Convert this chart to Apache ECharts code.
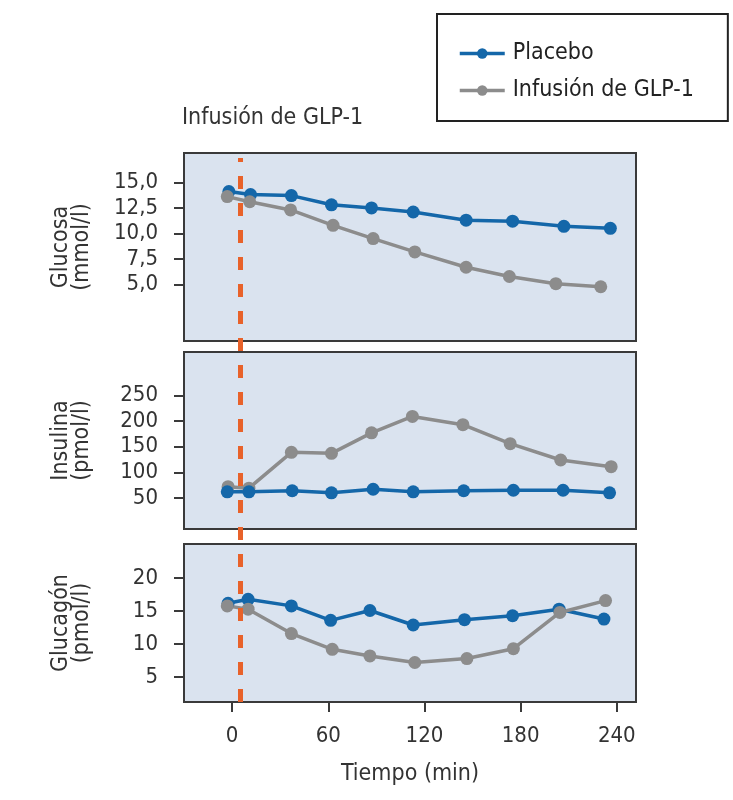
<!DOCTYPE html>
<html>
<head>
<meta charset="utf-8">
<script src="https://cdn.jsdelivr.net/npm/echarts@6/dist/echarts.min.js"></script>
<style>
  html, body { margin: 0; padding: 0; background: #ffffff; }
  #chart { width: 733px; height: 800px; }
</style>
</head>
<body>
<div id="chart"></div>
<script>
// ---- Data ----
const seriesNames = ['Placebo', 'Infusión de GLP-1'];
const chartTitle = 'Infusión de GLP-1';
const xAxisTitle = 'Tiempo (min)';
const panelTitles = ['Glucosa\n(mmol/l)', 'Insulina\n(pmol/l)', 'Glucagón\n(pmol/l)'];

const timeTicks = [0, 60, 120, 180, 240];
const glucoseTicks = [5, 7.5, 10, 12.5, 15];
const insulinTicks = [50, 100, 150, 200, 250];
const glucagonTicks = [5, 10, 15, 20];
const infusionStart = 5;

const glucoseTimesPlacebo = [-2, 11.5, 37, 62, 87, 113, 146, 175, 207, 236];
const glucoseTimesGLP = [-3, 11, 36.5, 63, 88, 114, 146, 173, 202, 230];
const insulinTimesPlacebo = [-3, 10.5, 37.5, 62, 88, 113, 144.5, 175.5, 206.5, 235.5];
const insulinTimesGLP = [-2.5, 10.5, 37, 62, 87, 112.5, 144, 173.5, 205, 236.5];
const glucagonTimesPlacebo = [-2.5, 10, 37, 61.5, 86, 113, 145, 175, 204, 232];
const glucagonTimesGLP = [-3, 10, 37, 62.5, 86, 114, 146.5, 175.5, 204.5, 233];

const glucosePlacebo = [14.1, 13.8, 13.7, 12.8, 12.5, 12.1, 11.3, 11.2, 10.7, 10.5];
const glucoseGLP = [13.6, 13.1, 12.3, 10.8, 9.5, 8.2, 6.7, 5.8, 5.1, 4.8];
const insulinPlacebo = [62, 62, 64, 60, 67, 62, 64, 65, 65, 60];
const insulinGLP = [72, 69, 139, 137, 177, 209, 193, 156, 124, 111];
const glucagonPlacebo = [16.2, 16.8, 15.8, 13.6, 15.1, 12.9, 13.7, 14.3, 15.3, 13.8];
const glucagonGLP = [15.8, 15.3, 11.6, 9.2, 8.2, 7.2, 7.8, 9.3, 14.8, 16.6];

// ---- Styling ----
const FONT = "'DejaVu Sans Condensed', 'Liberation Sans Narrow', sans-serif";
const TEXT = '#333333';
const BLUE = '#1467A9';
const GRAY = '#8C8C8C';
const ORANGE = '#E8622A';
const PANEL_BG = '#DAE3EF';
const BORDER = '#3a3a3a';
const FS_TICK = 22;
const FS_TEXT = 23;

const zip = (xs, ys) => xs.map((x, i) => [x, ys[i]]);
const X_MIN = -30, X_MAX = 252;

const grids = [
  { left: 184, right: 97, top: 153, height: 188 },
  { left: 184, right: 97, top: 352, height: 177 },
  { left: 184, right: 97, top: 544, height: 158 }
].map(g => Object.assign(g, { show: true, backgroundColor: PANEL_BG, borderColor: BORDER, borderWidth: 2 }));
grids.push({ left: 184, right: 97, top: 158, bottom: 98, show: false });

function xAxisFor(i, visible) {
  return {
    type: 'value', gridIndex: i, min: X_MIN, max: X_MAX,
    show: true,
    splitLine: { show: false },
    axisLine: { show: false, onZero: false },
    axisTick: { show: visible, length: 10, lineStyle: { color: BORDER, width: 2 }, customValues: timeTicks },
    axisLabel: { show: visible, customValues: timeTicks, fontSize: FS_TICK, color: TEXT, fontFamily: FONT, margin: 23 },
    name: visible ? xAxisTitle : '',
    nameLocation: 'middle', nameGap: 61,
    nameTextStyle: { fontSize: FS_TEXT, color: TEXT, fontFamily: FONT }
  };
}
function yAxisFor(i, min, max, ticks, fmt, title) {
  return {
    type: 'value', gridIndex: i, min: min, max: max,
    splitLine: { show: false },
    axisLine: { show: false, onZero: false },
    axisTick: { show: true, length: 10, lineStyle: { color: BORDER, width: 2 }, customValues: ticks },
    axisLabel: { customValues: ticks, formatter: fmt, fontSize: FS_TICK, color: TEXT, fontFamily: FONT, margin: 26 },
    name: title, nameLocation: 'middle', nameGap: 91, nameRotate: 90,
    nameTextStyle: { fontSize: FS_TEXT, color: TEXT, fontFamily: FONT, lineHeight: 21, align: 'center' }
  };
}
const commaFmt = v => v.toFixed(1).replace('.', ',');
const intFmt = v => String(v);

function lineSeries(name, color, gi, data) {
  return {
    name: name, type: 'line', xAxisIndex: gi, yAxisIndex: gi,
    data: data, symbol: 'circle', symbolSize: 13,
    lineStyle: { color: color, width: 3.5 },
    itemStyle: { color: color },
    emphasis: { disabled: true }, animation: false
  };
}

const option = {
  backgroundColor: '#ffffff',
  animation: false,
  title: {
    text: chartTitle, left: 177, top: 102,
    textStyle: { fontSize: FS_TEXT, fontWeight: 'normal', color: TEXT, fontFamily: FONT }
  },
  legend: {
    data: seriesNames, orient: 'vertical', left: 437, top: 14,
    borderColor: '#222', borderWidth: 2, padding: [28, 34, 19, 21],
    itemGap: 14, itemWidth: 45, itemHeight: 13,
    lineStyle: { width: 3.5 },
    textStyle: { fontSize: FS_TEXT, color: '#222', fontFamily: FONT, padding: [0, 0, 0, 3] }
  },
  grid: grids,
  xAxis: [xAxisFor(0, false), xAxisFor(1, false), xAxisFor(2, true),
    { type: 'value', gridIndex: 3, min: X_MIN, max: X_MAX, show: false }],
  yAxis: [
    yAxisFor(0, -0.5, 17.86, glucoseTicks, commaFmt, panelTitles[0]),
    yAxisFor(1, -10.6, 334.8, insulinTicks, intFmt, panelTitles[1]),
    yAxisFor(2, 1.2, 25.2, glucagonTicks, intFmt, panelTitles[2]),
    { type: 'value', gridIndex: 3, min: 0, max: 1, show: false }
  ],
  series: [
    lineSeries(seriesNames[0], BLUE, 0, zip(glucoseTimesPlacebo, glucosePlacebo)),
    lineSeries(seriesNames[1], GRAY, 0, zip(glucoseTimesGLP, glucoseGLP)),
    lineSeries(seriesNames[1], GRAY, 1, zip(insulinTimesGLP, insulinGLP)),
    lineSeries(seriesNames[0], BLUE, 1, zip(insulinTimesPlacebo, insulinPlacebo)),
    lineSeries(seriesNames[0], BLUE, 2, zip(glucagonTimesPlacebo, glucagonPlacebo)),
    lineSeries(seriesNames[1], GRAY, 2, zip(glucagonTimesGLP, glucagonGLP)),
    {
      type: 'line', xAxisIndex: 3, yAxisIndex: 3, data: [], z: 10, silent: true,
      markLine: {
        silent: true, symbol: 'none', animation: false,
        label: { show: false },
        lineStyle: { color: ORANGE, width: 5, type: [13, 14] },
        data: [{ xAxis: infusionStart }]
      }
    }
  ]
};

const chart = echarts.init(document.getElementById('chart'), null, { renderer: 'canvas' });
chart.setOption(option);
</script>
</body>
</html>
